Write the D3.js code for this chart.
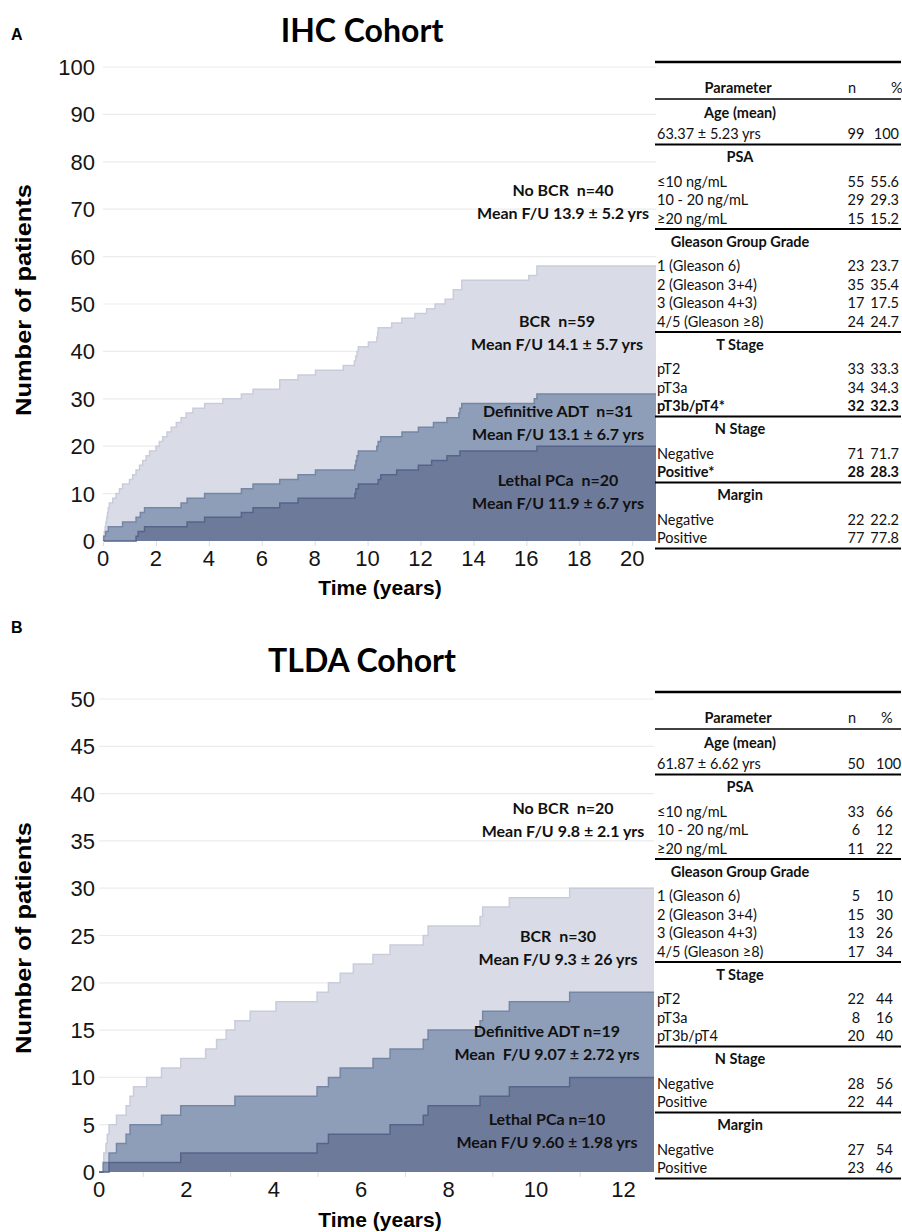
<!DOCTYPE html>
<html>
<head>
<meta charset="utf-8">
<title>IHC and TLDA cohorts</title>
<script src="https://cdn.jsdelivr.net/npm/d3@7"></script>
<style>
  body { margin: 0; background: #fff; }
  text { font-family: "Liberation Sans", Arial, sans-serif; white-space: pre; }
  .cal { font-family: Lato, "Open Sans", sans-serif; }
</style>
</head>
<body>
<script>

// ---------- Panel A : IHC cohort, cumulative patients by event ----------
var ihcBcrYears  = [0.02,0.05,0.08,0.11,0.14,0.17,0.2,0.24,0.37,0.49,0.62,0.74,1.0,1.12,1.25,1.38,1.5,1.63,1.76,2.0,2.13,2.26,2.42,2.58,2.77,2.95,3.14,3.4,3.84,4.53,5.23,5.67,6.68,7.37,8.03,9.08,9.5,9.55,9.6,9.65,10.03,10.35,10.38,10.4,10.91,11.29,11.79,12.23,12.55,12.93,13.24,13.56,16.09,16.4];
var ihcBcrCounts = [1,2,3,4,5,6,7,8,9,10,11,12,13,14,15,16,17,18,19,20,21,22,23,24,25,26,27,28,29,30,31,32,34,35,36,37,38,39,40,41,42,43,44,45,46,47,48,49,50,51,53,55,56,58];

var ihcAdtYears  = [0.03,0.1,0.2,0.74,1.25,1.41,1.57,2.95,3.18,3.84,5.23,5.67,6.68,7.37,8.03,9.52,9.56,9.6,9.65,10.35,10.4,10.5,11.3,11.92,12.49,13.0,13.45,13.49,13.56,16.3,16.4];
var ihcAdtCounts = [1,2,3,4,5,6,7,8,9,10,11,12,13,14,15,16,17,18,19,20,21,22,23,24,25,26,27,28,29,30,31];

var ihcLethalYears  = [1.25,1.33,1.57,3.18,3.84,5.23,5.67,6.68,7.37,9.52,9.56,9.65,10.4,10.5,11.1,11.92,12.42,13.0,13.49,16.4];
var ihcLethalCounts = [1,2,3,4,5,6,7,8,9,10,11,12,13,14,15,16,17,18,19,20];

var ihcXTicks = [0,2,4,6,8,10,12,14,16,18,20];
var ihcYTicks = [0,10,20,30,40,50,60,70,80,90,100];

var ihcLabels = [
  ["No BCR  n=40", "Mean F/U 13.9 \u00b1 5.2 yrs"],
  ["BCR  n=59", "Mean F/U 14.1 \u00b1 5.7 yrs"],
  ["Definitive ADT  n=31", "Mean F/U 13.1 \u00b1 6.7 yrs"],
  ["Lethal PCa  n=20", "Mean F/U 11.9 \u00b1 6.7 yrs"]
];

// table rows: [label, n, %, bold]
var ihcAge    = [["63.37 \u00b1 5.23 yrs","99","100"]];
var ihcPsa    = [["\u226410 ng/mL","55","55.6"],["10 - 20 ng/mL","29","29.3"],["\u226520 ng/mL","15","15.2"]];
var ihcGrade  = [["1 (Gleason 6)","23","23.7"],["2 (Gleason 3+4)","35","35.4"],["3 (Gleason 4+3)","17","17.5"],["4/5 (Gleason \u22658)","24","24.7"]];
var ihcTStage = [["pT2","33","33.3"],["pT3a","34","34.3"],["pT3b/pT4*","32","32.3",true]];
var ihcNStage = [["Negative","71","71.7"],["Positive*","28","28.3",true]];
var ihcMargin = [["Negative","22","22.2"],["Positive","77","77.8"]];

// ---------- Panel B : TLDA cohort ----------
var tldaBcrYears  = [0.09,0.11,0.16,0.19,0.23,0.4,0.62,0.71,0.79,1.09,1.43,1.87,2.44,2.69,2.91,3.11,3.46,4.05,4.99,5.25,5.52,5.82,6.27,6.66,7.42,7.53,8.72,8.78,9.39,10.77];
var tldaBcrCounts = [1,2,3,4,5,6,7,8,9,10,11,12,13,14,15,16,17,18,19,20,21,22,23,24,25,26,27,28,29,30];

var tldaAdtYears  = [0.1,0.23,0.4,0.62,0.71,1.43,1.87,3.11,4.99,5.25,5.52,6.27,6.66,7.42,7.53,8.72,8.78,9.39,10.77];
var tldaAdtCounts = [1,2,3,4,5,6,7,8,9,10,11,12,13,14,15,16,17,18,19];

var tldaLethalYears  = [0.23,1.87,4.99,5.25,6.66,7.42,7.53,8.72,9.39,10.77];
var tldaLethalCounts = [1,2,3,4,5,6,7,8,9,10];

var tldaXTicks = [0,2,4,6,8,10,12];
var tldaYTicks = [0,5,10,15,20,25,30,35,40,45,50];

var tldaLabels = [
  ["No BCR  n=20", "Mean F/U 9.8 \u00b1 2.1 yrs"],
  ["BCR  n=30", "Mean F/U 9.3 \u00b1 26 yrs"],
  ["Definitive ADT n=19", "Mean  F/U 9.07 \u00b1 2.72 yrs"],
  ["Lethal PCa n=10", "Mean F/U 9.60 \u00b1 1.98 yrs"]
];

var tldaAge    = [["61.87 \u00b1 6.62 yrs","50","100"]];
var tldaPsa    = [["\u226410 ng/mL","33","66"],["10 - 20 ng/mL","6","12"],["\u226520 ng/mL","11","22"]];
var tldaGrade  = [["1 (Gleason 6)","5","10"],["2 (Gleason 3+4)","15","30"],["3 (Gleason 4+3)","13","26"],["4/5 (Gleason \u22658)","17","34"]];
var tldaTStage = [["pT2","22","44"],["pT3a","8","16"],["pT3b/pT4","20","40"]];
var tldaNStage = [["Negative","28","56"],["Positive","22","44"]];
var tldaMargin = [["Negative","27","54"],["Positive","23","46"]];

var sectionTitles = ["Age (mean)", "PSA", "Gleason Group Grade", "T Stage", "N Stage", "Margin"];

// colours of the three stacked areas (back to front)
var fills   = ["#d9dce7", "#8e9eb8", "#6e7a9a"];
var strokes = ["#c9cddb", "#7587a5", "#56648a"];

var svg = d3.select("body").append("svg")
  .attr("width", 902).attr("height", 1232);

function toSteps(years, counts, xmax) {
  var pts = [{t: 0, c: 0}];
  years.forEach(function(t, i) { pts.push({t: t, c: counts[i]}); });
  pts.push({t: xmax, c: counts[counts.length - 1]});
  return pts;
}

function drawPanel(p) {
  var x = d3.scaleLinear().domain([0, p.xmax]).range([p.left, p.right]);
  var y = d3.scaleLinear().domain([0, p.ymax]).range([p.bottom, p.top]);
  var g = svg.append("g");

  // light grid
  g.append("g").selectAll("line").data(p.yTicks.slice(1)).enter().append("line")
    .attr("x1", p.left).attr("x2", p.right)
    .attr("y1", function(d) { return y(d); }).attr("y2", function(d) { return y(d); })
    .attr("stroke", "#ececec").attr("stroke-width", 1.2);

  var area = d3.area().curve(d3.curveStepAfter)
    .x(function(d) { return x(d.t); })
    .y0(y(0)).y1(function(d) { return y(d.c); });
  var line = d3.line().curve(d3.curveStepAfter)
    .x(function(d) { return x(d.t); })
    .y(function(d) { return y(d.c); });

  p.series.forEach(function(s, i) {
    var pts = toSteps(s[0], s[1], p.xmax);
    g.append("path").datum(pts).attr("d", area).attr("fill", fills[i]);
    g.append("path").datum(pts).attr("d", line)
      .attr("fill", "none").attr("stroke", strokes[i]).attr("stroke-width", 1.5);
  });

  // x axis: small light ticks, then labels
  var xAxis = d3.axisBottom(x).tickValues(p.xMinor).tickSize(5).tickFormat("");
  var xa = g.append("g").attr("transform", "translate(0," + p.bottom + ")").call(xAxis);
  xa.select(".domain").remove();
  xa.selectAll("line").attr("stroke", "#dddddd");

  g.append("g").selectAll("text").data(p.xTicks).enter().append("text")
    .attr("x", function(d) { return x(d); }).attr("y", p.bottom + 25)
    .attr("text-anchor", "middle").attr("font-size", 22).attr("fill", "#151515")
    .text(function(d) { return d; });

  g.append("g").selectAll("text").data(p.yTicks).enter().append("text")
    .attr("x", 95).attr("y", function(d) { return y(d) + 8; })
    .attr("text-anchor", "end").attr("font-size", 22).attr("fill", "#151515")
    .text(function(d) { return d; });

  g.append("text").attr("transform", "translate(31," + p.yTitleMid + ") rotate(-90)")
    .attr("text-anchor", "middle").attr("font-size", 22).attr("font-weight", "bold")
    .attr("textLength", 232).attr("lengthAdjust", "spacingAndGlyphs")
    .text("Number of patients");
  g.append("text").attr("x", 380).attr("y", p.xTitleY)
    .attr("text-anchor", "middle").attr("font-size", 21).attr("font-weight", "bold")
    .text("Time (years)");

  g.append("text").attr("class", "cal").attr("x", 362).attr("y", p.titleY)
    .attr("text-anchor", "middle").attr("font-size", 32).attr("font-weight", "bold")
    .text(p.title);
  g.append("text").attr("x", 11).attr("y", p.letterY)
    .attr("font-size", 16).attr("font-weight", "bold").text(p.letter);

  // group annotations
  p.labels.forEach(function(lab, i) {
    var pos = p.labelPos[i];
    [0, 1].forEach(function(k) {
      g.append("text").attr("class", "cal")
        .attr("x", pos[0]).attr("y", pos[1] + k * 22.5)
        .attr("text-anchor", "middle").attr("font-size", 16).attr("font-weight", "bold")
        .attr("fill", "#111").text(lab[k]);
    });
  });

  drawTable(p.table, p.tableTop, p.pctAnchor);
}

function drawTable(sections, top, pctAnchor) {
  var t = svg.append("g").attr("class", "table");
  var L = 655, R = 901, mid = 740, nX = 856;
  var pctX = pctAnchor === "end" ? 899 : 876;

  function hline(yy, w) {
    t.append("line").attr("x1", L).attr("x2", R).attr("y1", yy).attr("y2", yy)
      .attr("stroke", "#000").attr("stroke-width", w);
  }
  function txt(xx, yy, s, anchor, bold) {
    t.append("text").attr("class", "cal").attr("x", xx).attr("y", yy)
      .attr("text-anchor", anchor).attr("font-size", 14.5)
      .attr("font-weight", bold ? "bold" : "normal").attr("fill", "#111").text(s);
  }

  hline(top, 2.5);
  txt(mid - 2, top + 31, "Parameter", "middle", true);
  txt(nX - 8, top + 31, "n", "start", false);
  txt(pctX + (pctAnchor === "end" ? -8 : 5), top + 31, "%", "start", false);
  var yy = top + 37;
  hline(yy, 1.6);

  sections.forEach(function(rows, si) {
    var ty = yy + (si === 0 ? 19 : 17.5);
    txt(mid, ty, sectionTitles[si], "middle", true);
    var ry = ty + (si === 0 ? 21 : 24.5);
    rows.forEach(function(r, ri) {
      var b = !!r[3];
      txt(L + 2, ry, r[0], "start", b);
      txt(nX, ry, r[1], "middle", b);
      txt(pctX, ry, r[2], pctAnchor, b);
      if (ri < rows.length - 1) ry += 18.5;
    });
    yy = ry + 5.5;
    hline(yy, 2);
  });
}

drawPanel({
  title: "IHC Cohort", letter: "A", titleY: 42, letterY: 40,
  left: 103, right: 656, xmax: 20.9, top: 67, bottom: 541, ymax: 100,
  xTicks: ihcXTicks, yTicks: ihcYTicks, xMinor: ihcXTicks,
  series: [[ihcBcrYears, ihcBcrCounts], [ihcAdtYears, ihcAdtCounts], [ihcLethalYears, ihcLethalCounts]],
  labels: ihcLabels,
  labelPos: [[563, 196], [557, 327], [558, 417], [558, 486]],
  yTitleMid: 300, xTitleY: 595,
  table: [ihcAge, ihcPsa, ihcGrade, ihcTStage, ihcNStage, ihcMargin],
  tableTop: 62, pctAnchor: "end"
});

drawPanel({
  title: "TLDA Cohort", letter: "B", titleY: 672, letterY: 633,
  left: 99, right: 654, xmax: 12.7, top: 699, bottom: 1172, ymax: 50,
  xTicks: tldaXTicks, yTicks: tldaYTicks, xMinor: [1,3,5,7,9,11],
  series: [[tldaBcrYears, tldaBcrCounts], [tldaAdtYears, tldaAdtCounts], [tldaLethalYears, tldaLethalCounts]],
  labels: tldaLabels,
  labelPos: [[563, 814], [558, 942], [547, 1037], [547, 1125]],
  yTitleMid: 938, xTitleY: 1227,
  table: [tldaAge, tldaPsa, tldaGrade, tldaTStage, tldaNStage, tldaMargin],
  tableTop: 692, pctAnchor: "start"
});

</script>
</body>
</html>
